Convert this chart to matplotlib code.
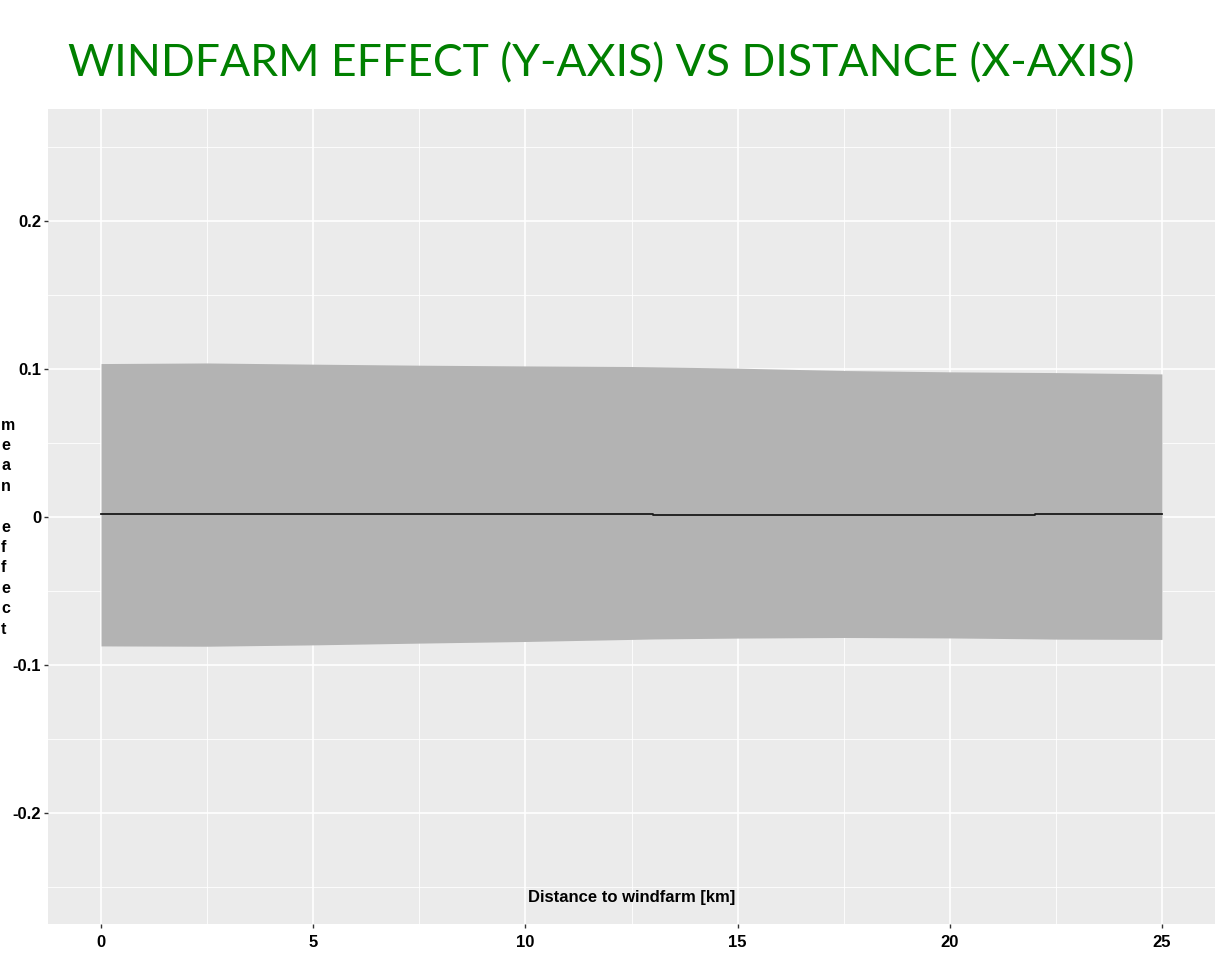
import matplotlib
matplotlib.use("Agg")
import matplotlib.pyplot as plt
from matplotlib.ticker import MultipleLocator

# Data
distance = [0, 2.5, 5, 7.5, 10, 12.5, 13, 15, 17.5, 20, 22, 22.5, 25]
upper = [0.1036, 0.1040, 0.1032, 0.1025, 0.1020, 0.1016, 0.1014, 0.1005, 0.0989, 0.0980, 0.0976, 0.0975, 0.0966]
lower = [-0.0873, -0.0875, -0.0866, -0.0854, -0.0843, -0.0829, -0.0826, -0.0820, -0.0816, -0.0819, -0.0825, -0.0827, -0.0829]
mean_x = [0, 13, 13, 22, 22, 25]
mean = [0.0020, 0.0020, 0.0015, 0.0015, 0.0020, 0.0020]
xticks = [0, 5, 10, 15, 20, 25]
yticks = [-0.2, -0.1, 0, 0.1, 0.2]
ytick_labels = ["-0.2", "-0.1", "0", "0.1", "0.2"]

title = "WINDFARM EFFECT (Y-AXIS) VS DISTANCE (X-AXIS)"
xlabel = "Distance to windfarm [km]"
ylabel = "m\ne\na\nn\n\ne\nf\nf\ne\nc\nt"

plt.rcParams['font.family'] = ['Liberation Sans', 'DejaVu Sans']

fig = plt.figure(figsize=(12.24, 9.59), dpi=100)
fig.patch.set_facecolor('white')
ax = fig.add_axes([48/1224, 35/959, (1215-48)/1224, (924-109)/959])
ax.set_facecolor('#EBEBEB')

ax.fill_between(distance, lower, upper, color='#B3B3B3', linewidth=0, zorder=2)
ax.plot(mean_x, mean, color='#1a1a1a', linewidth=1.3, zorder=3)

ax.set_xlim(-1.25, 26.25)
ax.set_ylim(-0.2753, 0.2757)
ax.set_xticks(xticks)
ax.set_yticks(yticks)
ax.set_yticklabels(ytick_labels)
ax.xaxis.set_minor_locator(MultipleLocator(2.5))
ax.yaxis.set_minor_locator(MultipleLocator(0.05))
ax.grid(which='major', color='white', linewidth=1.2, zorder=1)
ax.grid(which='minor', color='white', linewidth=0.6, zorder=1)
for s in ax.spines.values():
    s.set_visible(False)
ax.set_axisbelow(True)

ax.tick_params(axis='both', which='major', length=3, width=1, color='#333333',
               labelcolor='black', labelsize=12, pad=2)
ax.tick_params(axis='x', which='major', pad=5)
ax.tick_params(axis='both', which='minor', length=0)
for lbl in ax.get_yticklabels():
    lbl.set_fontweight('bold')
for lbl in ax.get_xticklabels():
    lbl.set_fontweight('bold')

ax.text(0.5, 0.033, xlabel, transform=ax.transAxes, ha='center', va='center',
        fontsize=12, fontweight='bold', color='black')

fig.text(1/1224, (959-527)/959, ylabel, ha='left', va='center', fontsize=11.5,
         fontweight='bold', linespacing=1.45, color='black')

fig.text(601/1224, (959-64)/959, title, ha='center', va='center',
         fontsize=32, color='#008000', family=['Lato', 'DejaVu Sans'])

fig.savefig('out.png', dpi=100)
